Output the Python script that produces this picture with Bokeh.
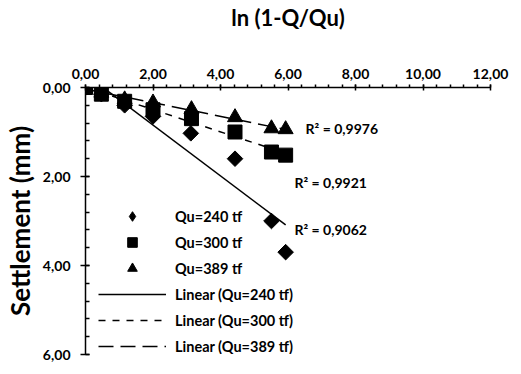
import numpy as np
from bokeh.plotting import figure
from bokeh.models import (Range1d, SingleIntervalTicker, CustomJSTickFormatter,
                          Legend, LegendItem, Label)
from bokeh.embed import file_html
from bokeh.resources import INLINE

# ---- data ----
x_240 = [0.0, 0.47, 1.16, 2.00, 3.12, 4.43, 5.51, 5.93]
y_240 = [0.0, 0.15, 0.40, 0.65, 1.03, 1.60, 3.00, 3.70]

x_300 = [0.0, 0.47, 1.16, 2.00, 3.14, 4.43, 5.51, 5.93]
y_300 = [0.0, 0.15, 0.31, 0.50, 0.70, 1.00, 1.45, 1.52]

x_389 = [0.0, 0.47, 1.16, 2.00, 3.14, 4.43, 5.51, 5.93]
y_389 = [0.0, 0.12, 0.27, 0.34, 0.49, 0.67, 0.92, 0.94]

series_labels = ["Qu=240 tf", "Qu=300 tf", "Qu=389 tf"]
trend_labels = ["Linear (Qu=240 tf)", "Linear (Qu=300 tf)", "Linear (Qu=389 tf)"]
r2_labels = ["R\u00b2 = 0,9062", "R\u00b2 = 0,9921", "R\u00b2 = 0,9976"]
x_title = "ln (1-Q/Qu)"
y_title = "Settlement (mm)"

FONT = "Lato"

p = figure(frame_width=405, frame_height=267,
           min_border_left=81, min_border_right=19, min_border_top=82, min_border_bottom=9,
           x_range=Range1d(0, 12), y_range=Range1d(6, 0),
           x_axis_location="above", output_backend="svg", toolbar_location=None)

p.outline_line_color = None
p.xgrid.visible = False
p.ygrid.visible = False

fmt = CustomJSTickFormatter(code="return tick.toFixed(2).replace('.', ',');")

xa = p.xaxis[0]
xa.ticker = SingleIntervalTicker(interval=2, num_minor_ticks=5)
xa.formatter = fmt
xa.major_tick_in = 3
xa.major_tick_out = 3
xa.minor_tick_in = 0
xa.minor_tick_out = 3
xa.major_label_standoff = 6
xa.axis_label = x_title
xa.axis_label_standoff = 35
xa.axis_label_text_font_size = "22px"

ya = p.yaxis[0]
ya.ticker = SingleIntervalTicker(interval=2, num_minor_ticks=5)
ya.formatter = fmt
ya.major_tick_in = 4
ya.major_tick_out = 5
ya.minor_tick_in = 4
ya.minor_tick_out = 0
ya.major_label_standoff = 10
ya.axis_label = y_title
ya.axis_label_standoff = 4
ya.axis_label_text_font_size = "26px"

for ax in (xa, ya):
    ax.axis_line_color = "black"
    ax.axis_line_width = 1.5
    ax.major_tick_line_color = "black"
    ax.major_tick_line_width = 1.5
    ax.minor_tick_line_color = "black"
    ax.minor_tick_line_width = 1.5
    ax.major_label_text_font = FONT
    ax.major_label_text_font_size = "14px"
    ax.major_label_text_font_style = "bold"
    ax.major_label_text_color = "black"
    ax.axis_label_text_font = FONT
    ax.axis_label_text_font_style = "bold"
    ax.axis_label_text_color = "black"

# trendlines (least-squares fits of each series)
def fit_line(xs, ys):
    k, b = np.polyfit(xs, ys, 1)
    xx = np.array([min(xs), max(xs)])
    return xx, k * xx + b

lx, ly = fit_line(x_240, y_240)
l240 = p.line(lx, ly, line_color="black", line_width=1.5)
lx, ly = fit_line(x_300, y_300)
l300 = p.line(lx, ly, line_color="black", line_width=1.5, line_dash="7 7")
lx, ly = fit_line(x_389, y_389)
l389 = p.line(lx, ly, line_color="black", line_width=1.5, line_dash="15 7")

s240 = p.scatter(x_240, y_240, marker="square", angle=np.pi / 4, size=11,
                 fill_color="black", line_color="black")
s300 = p.scatter(x_300, y_300, marker="square", size=14,
                 fill_color="black", line_color="black")
s389 = p.scatter(x_389, y_389, marker="triangle", size=15,
                 fill_color="black", line_color="black")
# legend swatch for the diamond series (the legend does not rotate markers)
k240 = p.scatter(x=[np.nan], y=[np.nan], marker="diamond",
                 fill_color="black", line_color="black")

legend = Legend(items=[
    LegendItem(label=series_labels[0], renderers=[k240]),
    LegendItem(label=series_labels[1], renderers=[s300]),
    LegendItem(label=series_labels[2], renderers=[s389]),
    LegendItem(label=trend_labels[0], renderers=[l240]),
    LegendItem(label=trend_labels[1], renderers=[l300]),
    LegendItem(label=trend_labels[2], renderers=[l389]),
], location=(13, -4))
legend.border_line_color = None
legend.background_fill_alpha = 0
legend.padding = 0
legend.margin = 0
legend.spacing = 2
legend.glyph_width = 68
legend.glyph_height = 24
legend.label_height = 24
legend.label_standoff = 9
legend.label_text_font = FONT
legend.label_text_font_size = "14.5px"
legend.label_text_font_style = "bold"
legend.label_text_color = "black"
p.add_layout(legend, "center")

r2_pos = [(6.19, 3.20), (6.19, 2.14), (6.52, 0.93)]
for (lxp, lyp), txt in zip(r2_pos, r2_labels):
    p.add_layout(Label(x=lxp, y=lyp, text=txt, text_align="left", text_baseline="middle",
                       text_font=FONT, text_font_size="14px", text_font_style="bold",
                       text_color="black"))

open("out.html", "w").write(file_html(p, INLINE))
